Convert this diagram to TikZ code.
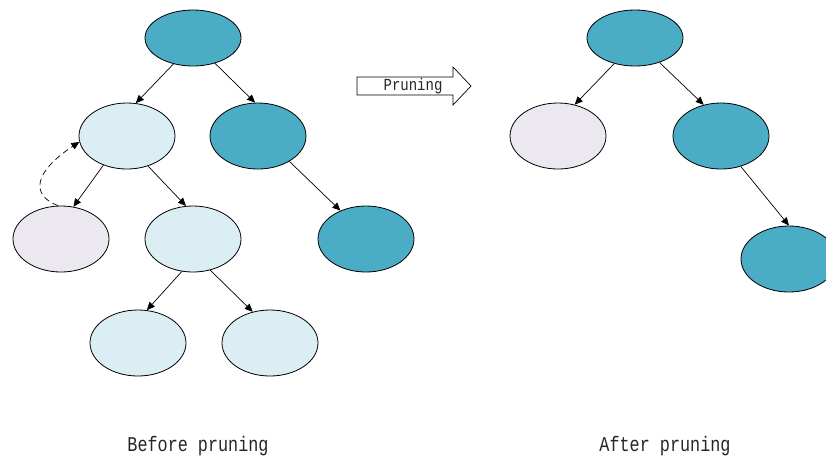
\documentclass[tikz,border=0pt]{standalone}
\usepackage{fontspec}
\setmonofont{Liberation Mono}
\usetikzlibrary{arrows.meta,shapes.geometric}
\definecolor{teal1}{HTML}{4BACC6}
\definecolor{lblue}{HTML}{DAEEF3}
\definecolor{lav}{HTML}{EBE8F0}
\begin{document}
\begin{tikzpicture}[x=1pt,y=-1pt,
  el/.style={ellipse,draw=black,line width=0.8pt,minimum width=96pt,minimum height=66pt,inner sep=0pt},
  rootel/.style={el,minimum height=56pt},
  tealn/.style={fill=teal1},
  lbn/.style={fill=lblue},
  lavn/.style={fill=lav},
  edge/.style={-{Triangle[length=8pt,width=7pt]},line width=0.7pt},
  captxt/.style={font=\ttfamily\fontsize{16.8}{18}\selectfont,text=black!85,yscale=1.25,transform shape}]
\useasboundingbox (0,0) rectangle (826,459);
% before
\node[rootel,tealn] (r) at (193,38) {};
\node[el,lbn] (a) at (127,136) {};
\node[el,tealn] (b) at (258,136) {};
\node[el,lavn] (c) at (61,239) {};
\node[el,lbn] (d) at (193,239) {};
\node[el,tealn] (e) at (366,239) {};
\node[el,lbn] (f) at (138,343) {};
\node[el,lbn] (g) at (270,343) {};
\draw[edge] (r.233) -- (a.75);
\draw[edge] (r.311) -- (b.95);
\draw[edge] (a.231) -- (c.69);
\draw[edge] (a.305) -- (d.102);
\draw[edge] (b.321) -- (e.132);
\draw[edge] (d.251) -- (f.75);
\draw[edge] (d.299) -- (g.119);
\draw[edge,dashed,dash pattern=on 6pt off 4pt] (c.95) .. controls (30,195) and (34,172) .. (a.187);
% after
\node[rootel,tealn] (r2) at (635,38) {};
\node[el,lavn] (a2) at (558,136) {};
\node[el,tealn] (b2) at (721,136) {};
\node[el,tealn] (e2) at (789,259) {};
\draw[edge] (r2.231) -- (a2.62);
\draw[edge] (r2.315) -- (b2.119);
\draw[edge] (b2.303) -- (e2.90);
% pruning arrow
\draw[line width=0.7pt,fill=white] (357,77) -- (453,77) -- (453,67) -- (471,86) -- (453,105) -- (453,95) -- (357,95) -- cycle;
\node[font=\ttfamily\fontsize{14}{16}\selectfont,text=black!85,yscale=1.2,transform shape] (pl) at (413,86) {Pruning};
% captions
\node[captxt] (bl) at (198,446) {Before pruning};
\node[captxt] (al) at (665,446) {After pruning};
\end{tikzpicture}
\end{document}
